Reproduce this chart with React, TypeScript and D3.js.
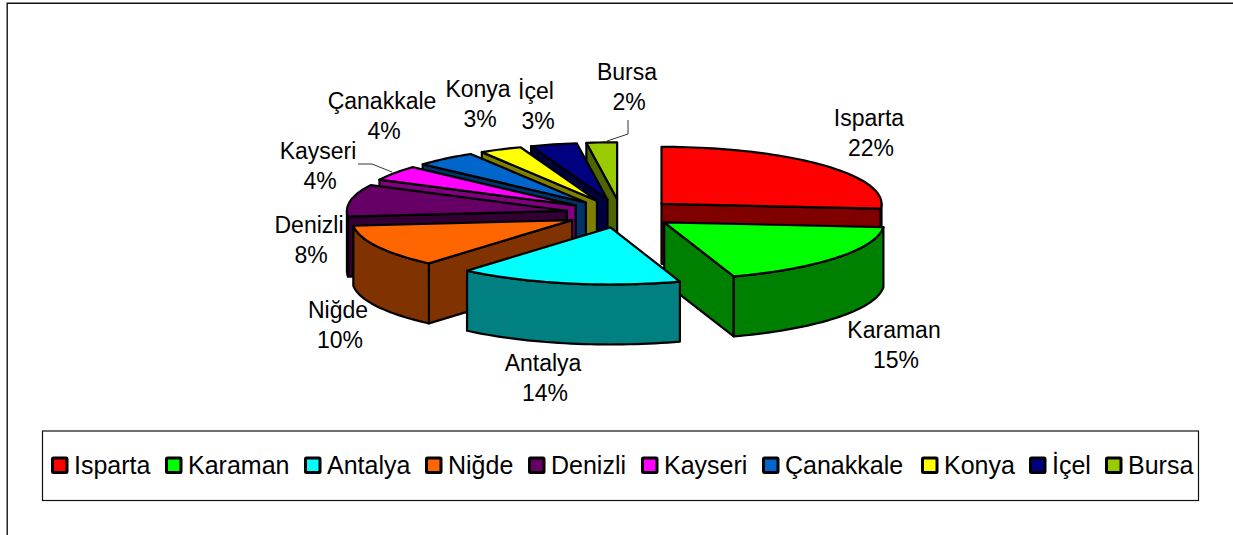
import React from "react";
import * as d3 from "d3";

const categories = ["Isparta", "Karaman", "Antalya", "Niğde", "Denizli", "Kayseri", "Çanakkale", "Konya", "İçel", "Bursa"];
const values = [22.4, 15.75, 13.95, 10.3, 7.7, 3.6, 3.85, 2.65, 2.9, 1.9];
const percentLabels = ["22%", "15%", "14%", "10%", "8%", "4%", "4%", "3%", "3%", "2%"];
const topColors = ["#FF0000", "#00FF00", "#00FFFF", "#FF6600", "#660066", "#FF00FF", "#0066CC", "#FFFF00", "#000080", "#99CC00"];
const sideColors = ["#800000", "#008000", "#008080", "#803300", "#330033", "#800080", "#003366", "#808000", "#000040", "#4D6600"];

// label layout: centre x, baseline of first line
const labelX = [869, 894, 543, 338, 309, 318, 382, 478, 536, 627];
const labelY = [126, 338, 371, 318, 233, 159, 109, 97, 99, 80];
const legendSwatchX = [52, 166, 305, 426, 529, 642, 763, 922, 1030, 1106];

const W = 1233, H = 535;
const CX = 621, CY = 213.5, RX = 220, RY = 57, EXPLODE = 55, DEPTH = 60;
const FONT = "'Liberation Sans', Arial, sans-serif";

const sx = d3.scaleLinear().domain([-1, 1]).range([CX - RX, CX + RX]);
const sy = d3.scaleLinear().domain([-1, 1]).range([CY - RY, CY + RY]);
const line = d3.line<[number, number]>();

function samples(a0: number, a1: number): number[] {
  const n = Math.max(2, Math.ceil((a1 - a0) / 0.03));
  return d3.range(n + 1).map((i) => a0 + ((a1 - a0) * i) / n);
}

export default function App() {
  const arcs = d3.pie<number>().sort(null)(values);
  const slices = arcs.map((a) => {
    const mid = (a.startAngle + a.endAngle) / 2;
    const ox = (EXPLODE / RX) * Math.sin(mid);
    const oy = (-EXPLODE / RX) * Math.cos(mid);
    const pt = (th: number, r = 1, dz = 0): [number, number] => [
      sx(ox + r * Math.sin(th)),
      sy(oy - r * Math.cos(th)) + dz,
    ];
    const a0 = a.startAngle, a1 = a.endAngle;
    const top = line([pt(0, 0), ...samples(a0, a1).map((t) => pt(t))]) + "Z";
    const face = (t: number) => line([pt(t, 0), pt(t), pt(t, 1, DEPTH), pt(t, 0, DEPTH)]) + "Z";
    const wa0 = Math.max(a0, Math.PI / 2), wa1 = Math.min(a1, (3 * Math.PI) / 2);
    let wall: string | null = null;
    if (wa1 > wa0) {
      const s = samples(wa0, wa1);
      wall = line([...s.map((t) => pt(t)), ...s.slice().reverse().map((t) => pt(t, 1, DEPTH))]) + "Z";
    }
    const startFace = Math.sin(a0) < 0 ? face(a0) : null;
    const endFace = Math.sin(a1) > 0 ? face(a1) : null;
    return { i: a.index, mid, top, wall, startFace, endFace };
  });
  const order = slices.slice().sort((p, q) => Math.cos(q.mid) - Math.cos(p.mid));

  return (
    <svg width={W} height={H} style={{ position: "fixed", left: 0, top: 0, background: "#fff" }} fontFamily={FONT}>
      <path d={`M7.2,${H}V3.2H${W}`} fill="none" stroke="#111" strokeWidth={1.4} />
      <rect x={42.5} y={431} width={1156} height={69.5} fill="#fff" stroke="#111" strokeWidth={1.2} />
      {/* leader lines */}
      <path d="M358,164H372L392,172" fill="none" stroke="#000" strokeWidth={0.8} />
      <path d="M628,120V134L607,141" fill="none" stroke="#000" strokeWidth={0.8} />
      {order.map((s) => (
        <g key={s.i} stroke="#000" strokeWidth={2.2} strokeLinejoin="round">
          {s.startFace && <path d={s.startFace} fill={sideColors[s.i]} />}
          {s.endFace && <path d={s.endFace} fill={sideColors[s.i]} />}
          {s.wall && <path d={s.wall} fill={sideColors[s.i]} />}
          <path d={s.top} fill={topColors[s.i]} />
        </g>
      ))}
      {categories.map((c, i) => (
        <g key={c} transform={`translate(${labelX[i]},0)`} fontSize={23} textAnchor="middle" fill="#000">
          <text y={labelY[i]}>{c}</text>
          <text x={2} y={labelY[i] + 30}>{percentLabels[i]}</text>
        </g>
      ))}
      {categories.map((c, i) => (
        <g key={c} transform={`translate(${legendSwatchX[i]},0)`}>
          <rect x={0.5} y={458} width={14.5} height={14.5} fill={topColors[i]} stroke="#000" strokeWidth={3} rx={1} />
          <text x={22} y={473.5} fontSize={25} fill="#000">{c}</text>
        </g>
      ))}
    </svg>
  );
}
